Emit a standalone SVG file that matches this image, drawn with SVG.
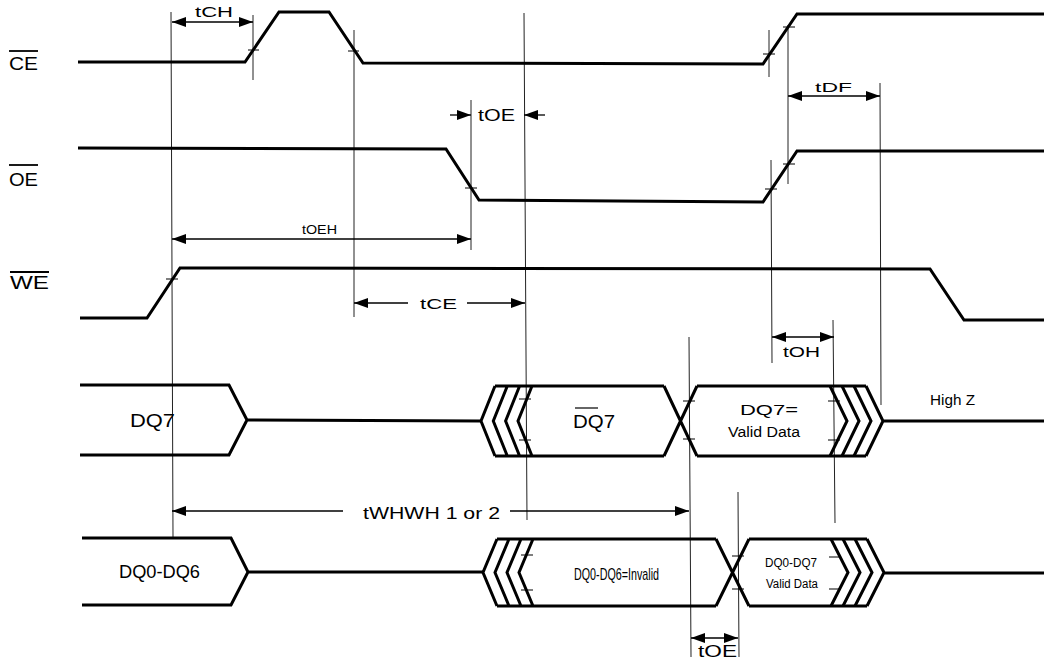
<svg xmlns="http://www.w3.org/2000/svg" width="1044" height="658" viewBox="0 0 1044 658">
<style>
.w{fill:none;stroke:#000;stroke-width:3;stroke-linejoin:miter}
.g{fill:none;stroke:#222;stroke-width:1}
.a{fill:none;stroke:#000;stroke-width:1.3}
.t{fill:none;stroke:#000;stroke-width:1.2}
text{font-family:"Liberation Sans",Arial,sans-serif;fill:#000}
.ob{stroke:#000;stroke-width:1.8}
</style>
<defs>
<marker id="ah" viewBox="0 0 14 10" refX="14" refY="5" markerWidth="14" markerHeight="10" markerUnits="userSpaceOnUse" orient="auto-start-reverse"><path d="M0,0 L14,5 L0,10 z" fill="#000"/></marker>
</defs>
<rect width="1044" height="658" fill="#fff"/>

<g id="guides">
<line class="g" x1="171" y1="12" x2="173" y2="537"/>
<line class="g" x1="253" y1="15" x2="253" y2="80"/>
<line class="g" x1="354" y1="30" x2="354" y2="317"/>
<line class="g" x1="471" y1="100" x2="471" y2="250"/>
<line class="g" x1="524" y1="13" x2="527" y2="520"/>
<line class="g" x1="689" y1="337" x2="691" y2="657"/>
<line class="g" x1="738" y1="492" x2="739" y2="657"/>
<line class="g" x1="769" y1="30" x2="769" y2="77"/>
<line class="g" x1="771" y1="160" x2="772" y2="363"/>
<line class="g" x1="788" y1="25" x2="788" y2="184"/>
<line class="g" x1="833" y1="320" x2="835" y2="523"/>
<line class="g" x1="880" y1="83" x2="881" y2="405"/>
<path class="t" d="M248,50 H259 M348,51 H359 M465,188 H477 M763,54 H775 M783,27 H795 M765,189 H777 M783,164 H795 M166,279 H178 M519,399 H531 M519,440 H531 M683,401 H695 M683,439 H695 M828,401 H840 M828,440 H840 M521,555 H533 M521,590 H533 M732,556 H744 M732,589 H744 M829,557 H841 M829,589 H841"/>
</g>

<g id="sig-ce">
<line class="ob" x1="9" y1="51" x2="38" y2="51"/>
<text x="9" y="70" font-size="19" textLength="29" lengthAdjust="spacingAndGlyphs">CE</text>
<polyline class="w" points="78,62 245,62 279,12 329,12 363,63 763,64 797,14 1044,14"/>
</g>

<g id="sig-oe">
<line class="ob" x1="9" y1="165" x2="38" y2="165"/>
<text x="9" y="186" font-size="19" textLength="29" lengthAdjust="spacingAndGlyphs">OE</text>
<polyline class="w" points="78,148 446,149 479,200 763,202 797,151 1044,151"/>
</g>

<g id="sig-we">
<line class="ob" x1="10" y1="272" x2="49" y2="272"/>
<text x="10" y="289" font-size="18" textLength="39" lengthAdjust="spacingAndGlyphs">WE</text>
<polyline class="w" points="80,318 147,318 180,268 930,269 964,320 1044,320"/>
</g>

<g id="sig-dq7">
<path class="w" d="M80,385 H229 L247,420 L229,455 H80 M247,420 L481,421"/>
<path class="w" d="M495,386 L481,421 L495,456 M507.3,386 L493.3,421 L507.3,456 M519.6,386 L505.6,421 L519.6,456 M532,386 L518,421 L532,456 M495,386 H664 M495,456 H664 M664,386 L697,456 M664,456 L697,386 M697,386 H866 M697,456 H866"/>
<path class="w" d="M830,386 L847,421 L830,456 M842,386 L859,421 L842,456 M854,386 L871,421 L854,456 M866,386 L883,421 L866,456 M883,421 H1044"/>
<text x="130" y="427" font-size="18" textLength="45" lengthAdjust="spacingAndGlyphs">DQ7</text>
<line x1="575" y1="408" x2="598" y2="408" stroke="#000" stroke-width="1.2"/>
<text x="573" y="428" font-size="18" textLength="42" lengthAdjust="spacingAndGlyphs">DQ7</text>
<text x="740" y="415" font-size="14" textLength="58" lengthAdjust="spacingAndGlyphs">DQ7=</text>
<text x="728" y="437" font-size="14" textLength="72" lengthAdjust="spacingAndGlyphs">Valid Data</text>
<text x="930" y="405" font-size="15" textLength="45" lengthAdjust="spacingAndGlyphs">High Z</text>
</g>

<g id="sig-dq0-6">
<path class="w" d="M82,538 H231 L248,572 L231,605 H82 M248,572 L483,572"/>
<path class="w" d="M497,539 L483,572.5 L497,606 M509,539 L495,572.5 L509,606 M521,539 L507,572.5 L521,606 M533,539 L519,572.5 L533,606 M497,539 H716 M497,606 H716 M716,539 L749,606 M716,606 L749,539 M749,539 H867 M749,606 H867"/>
<path class="w" d="M831,539 L848,572.5 L831,606 M843,539 L860,572.5 L843,606 M855,539 L872,572.5 L855,606 M867,539 L884,572.5 L867,606 M884,573 H1044"/>
<text x="119" y="578" font-size="18" textLength="81" lengthAdjust="spacingAndGlyphs">DQ0-DQ6</text>
<text x="574" y="580" font-size="17" textLength="85" lengthAdjust="spacingAndGlyphs">DQ0-DQ6=Invalid</text>
<text x="765" y="567" font-size="12" textLength="52" lengthAdjust="spacingAndGlyphs">DQ0-DQ7</text>
<text x="766" y="588" font-size="12" textLength="52" lengthAdjust="spacingAndGlyphs">Valid Data</text>
</g>

<g id="timings">
<line class="a" x1="172" y1="22" x2="253" y2="22" marker-start="url(#ah)" marker-end="url(#ah)"/>
<text x="195" y="17" font-size="14" textLength="38" lengthAdjust="spacingAndGlyphs">tCH</text>
<line class="a" x1="450" y1="115" x2="471" y2="115" marker-end="url(#ah)"/>
<line class="a" x1="545" y1="115" x2="524" y2="115" marker-end="url(#ah)"/>
<text x="478" y="121" font-size="17" textLength="37" lengthAdjust="spacingAndGlyphs">tOE</text>
<line class="a" x1="172" y1="239" x2="471" y2="239" marker-start="url(#ah)" marker-end="url(#ah)"/>
<text x="302" y="234" font-size="13" textLength="35" lengthAdjust="spacingAndGlyphs">tOEH</text>
<line class="a" x1="408" y1="303" x2="354" y2="303" marker-end="url(#ah)"/>
<line class="a" x1="467" y1="303" x2="525" y2="303" marker-end="url(#ah)"/>
<text x="420" y="309" font-size="15" textLength="37" lengthAdjust="spacingAndGlyphs">tCE</text>
<line class="a" x1="788" y1="96" x2="880" y2="96" marker-start="url(#ah)" marker-end="url(#ah)"/>
<text x="815" y="92" font-size="13" textLength="37" lengthAdjust="spacingAndGlyphs">tDF</text>
<line class="a" x1="772" y1="337" x2="834" y2="337" marker-start="url(#ah)" marker-end="url(#ah)"/>
<text x="783" y="357" font-size="15" textLength="37" lengthAdjust="spacingAndGlyphs">tOH</text>
<line class="a" x1="343" y1="511" x2="172" y2="511" marker-end="url(#ah)"/>
<line class="a" x1="510" y1="511" x2="689" y2="511" marker-end="url(#ah)"/>
<text x="363" y="519" font-size="16" textLength="137" lengthAdjust="spacingAndGlyphs">tWHWH 1 or 2</text>
<line class="a" x1="691" y1="638" x2="738" y2="638" marker-start="url(#ah)" marker-end="url(#ah)"/>
<text x="698" y="657" font-size="16" textLength="39" lengthAdjust="spacingAndGlyphs">tOE</text>
</g>
</svg>
